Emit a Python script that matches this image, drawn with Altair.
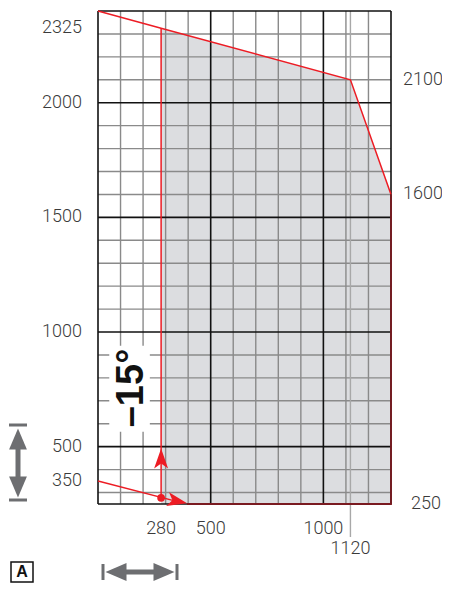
import altair as alt
import pandas as pd

# ---------------- data ----------------
x_domain = [0, 1300]
y_domain = [250, 2400]

grid_x_minor = [100, 200, 300, 400, 600, 700, 800, 900, 1100, 1200]
grid_x_major = [0, 500, 1000, 1300]
grid_y_minor = [300, 400, 600, 700, 800, 900, 1100, 1200, 1300, 1400,
                1600, 1700, 1800, 1900, 2100, 2200, 2300]
grid_y_major = [250, 500, 1000, 1500, 2000, 2400]

# limit curve (red outline)
curve_x = [0, 280, 1120, 1300]
curve_y = [2400, 2325, 2100, 1600]
edge_x = [1300, 1300, 395]
edge_y = [1600, 250, 250]
# shaded working range
area_x = [280, 1120, 1300]
area_y = [2325, 2100, 1600]
# vertical working line at 280
vert_x = [280, 280]
vert_y = [277, 2325]
# lower sloped line
low_x = [0, 370]
low_y = [350, 256]
dot_x, dot_y = [280], [277]
up_arrow_x, up_arrow_y = [280], [448]
right_arrow_x, right_arrow_y = [352], [262]

left_labels = [2325, 2000, 1500, 1000, 500, 350]
bottom_labels = [280, 500, 1000]
right_labels = [2100, 1600]
right_label_low = [250]
extra_x_label = [1120]

angle_text = "\u201315\u00b0"
angle_box_x = [50, 230]
angle_box_y = [565, 940]
angle_pos = (150, 756)

RED = "#ed1c24"
EDGE = "#7a1a20"
GRAY_TXT = "#3a3a3a"
ICON = "#6d6e71"
FONT = "Roboto"

xs = alt.Scale(domain=x_domain, nice=False, zero=False)
ys = alt.Scale(domain=y_domain, nice=False, zero=False)


def X(field, **kw):
    return alt.X(field, type="quantitative", scale=xs, axis=None, **kw)


def Y(field, **kw):
    return alt.Y(field, type="quantitative", scale=ys, axis=None, **kw)


def lbl(df, **kw):
    base = dict(fontSize=18, font=FONT, fontWeight=300, color=GRAY_TXT, baseline="middle")
    base.update(kw)
    return alt.Chart(df).mark_text(**base).encode(x=X("x"), y=Y("y"), text="t:N")


# ---------------- layers ----------------
area_df = pd.DataFrame({"x": area_x, "y": area_y, "b": [y_domain[0]] * len(area_x)})
area = alt.Chart(area_df).mark_area(color="#dcdde0", opacity=1).encode(
    x=X("x"), y=Y("y"), y2="b"
)

vmin_df = pd.DataFrame({"x": grid_x_minor, "y0": y_domain[0], "y1": y_domain[1]})
vmin = alt.Chart(vmin_df).mark_rule(color="#8a8a8a", strokeWidth=1.4).encode(
    x=X("x"), y=Y("y0"), y2="y1"
)
hmin_df = pd.DataFrame({"y": grid_y_minor, "x0": x_domain[0], "x1": x_domain[1]})
hmin = alt.Chart(hmin_df).mark_rule(color="#8a8a8a", strokeWidth=1.4).encode(
    y=Y("y"), x=X("x0"), x2="x1"
)
l1120_df = pd.DataFrame({"x": extra_x_label, "y0": y_domain[0], "y1": y_domain[1]})
l1120 = alt.Chart(l1120_df).mark_rule(color="#a8a8a8", strokeWidth=1.4).encode(
    x=X("x"), y=Y("y0"), y2="y1"
)
l1120_ext = alt.Chart(l1120_df).mark_rule(color="#a8a8a8", strokeWidth=1.4).encode(
    x=X("x"), y=alt.value(493), y2=alt.value(526)
)
vmaj_df = pd.DataFrame({"x": grid_x_major, "y0": y_domain[0], "y1": y_domain[1]})
vmaj = alt.Chart(vmaj_df).mark_rule(color="#111111", strokeWidth=1.6).encode(
    x=X("x"), y=Y("y0"), y2="y1"
)
hmaj_df = pd.DataFrame({"y": grid_y_major, "x0": x_domain[0], "x1": x_domain[1]})
hmaj = alt.Chart(hmaj_df).mark_rule(color="#111111", strokeWidth=1.6).encode(
    y=Y("y"), x=X("x0"), x2="x1"
)

box_df = pd.DataFrame({"x0": [angle_box_x[0]], "x1": [angle_box_x[1]],
                       "y0": [angle_box_y[0]], "y1": [angle_box_y[1]]})
box = alt.Chart(box_df).mark_rect(color="white").encode(
    x=X("x0"), x2="x1", y=Y("y0"), y2="y1"
)
angle_df = pd.DataFrame({"x": [angle_pos[0]], "y": [angle_pos[1]], "t": [angle_text]})
angle_lbl = alt.Chart(angle_df).mark_text(
    angle=270, fontSize=38, fontWeight="bold", font="Liberation Sans",
    color="#111111", align="center", baseline="middle"
).encode(x=X("x"), y=Y("y"), text="t:N")

curve_df = pd.DataFrame({"x": curve_x, "y": curve_y, "o": list(range(len(curve_x)))})
curve = alt.Chart(curve_df).mark_line(color=RED, strokeWidth=1.5).encode(
    x=X("x"), y=Y("y"), order="o:Q"
)
edge_df = pd.DataFrame({"x": edge_x, "y": edge_y, "o": list(range(len(edge_x)))})
edge = alt.Chart(edge_df).mark_line(color=EDGE, strokeWidth=1.8).encode(
    x=X("x"), y=Y("y"), order="o:Q"
)
vert_df = pd.DataFrame({"x": vert_x, "y": vert_y})
vert = alt.Chart(vert_df).mark_line(color=RED, strokeWidth=1.5).encode(
    x=X("x"), y=Y("y")
)
low_df = pd.DataFrame({"x": low_x, "y": low_y})
low = alt.Chart(low_df).mark_line(color=RED, strokeWidth=1.5).encode(
    x=X("x"), y=Y("y")
)
ARROW = "M0,-1L0.7,1L0,0.5L-0.7,1Z"
up_df = pd.DataFrame({"x": up_arrow_x, "y": up_arrow_y})
up_arrow = alt.Chart(up_df).mark_point(
    shape=ARROW, filled=True, size=400, color=RED, opacity=1
).encode(x=X("x"), y=Y("y"))
ra_df = pd.DataFrame({"x": right_arrow_x, "y": right_arrow_y})
right_arrow = alt.Chart(ra_df).mark_point(
    shape=ARROW, filled=True, size=400, color=RED, opacity=1, angle=102
).encode(x=X("x"), y=Y("y"))
dot_df = pd.DataFrame({"x": dot_x, "y": dot_y})
dot = alt.Chart(dot_df).mark_circle(size=60, color=RED, opacity=1).encode(
    x=X("x"), y=Y("y")
)

# labels
left_df = pd.DataFrame({"x": [x_domain[0]] * len(left_labels), "y": left_labels,
                        "t": [str(v) for v in left_labels]})
left_lbl = lbl(left_df, align="right", dx=-16)
bottom_df = pd.DataFrame({"x": bottom_labels, "y": [y_domain[0]] * len(bottom_labels),
                          "t": [str(v) for v in bottom_labels]})
bottom_lbl = lbl(bottom_df, align="center", dy=25)
lbl1120_df = pd.DataFrame({"x": extra_x_label, "y": [y_domain[0]],
                           "t": [str(v) for v in extra_x_label]})
lbl1120 = lbl(lbl1120_df, align="center", dy=45)
right_df = pd.DataFrame({"x": [x_domain[1]] * len(right_labels), "y": right_labels,
                         "t": [str(v) for v in right_labels]})
right_lbl = lbl(right_df, align="left", dx=12)
right_low_df = pd.DataFrame({"x": [x_domain[1]], "y": right_label_low,
                             "t": [str(v) for v in right_label_low]})
right_low = lbl(right_low_df, align="left", dx=20)

# decorative icons (pixel positions relative to plot area)
one = pd.DataFrame({"k": [0]})
TRI = "M0,-1L0.85,1L-0.85,1Z"
v_bar_top = alt.Chart(one).mark_rule(color=ICON, strokeWidth=3).encode(
    x=alt.value(-89), x2=alt.value(-71), y=alt.value(414))
v_bar_bot = alt.Chart(one).mark_rule(color=ICON, strokeWidth=3).encode(
    x=alt.value(-89), x2=alt.value(-71), y=alt.value(489))
v_shaft = alt.Chart(one).mark_rule(color=ICON, strokeWidth=5).encode(
    x=alt.value(-80), y=alt.value(430), y2=alt.value(475))
v_head_up = alt.Chart(one).mark_point(shape=TRI, filled=True, size=440, color=ICON,
                                      opacity=1).encode(x=alt.value(-80), y=alt.value(428))
v_head_dn = alt.Chart(one).mark_point(shape=TRI, filled=True, size=440, color=ICON,
                                      opacity=1, angle=180).encode(x=alt.value(-80), y=alt.value(476))
HY = 561
h_bar_l = alt.Chart(one).mark_rule(color=ICON, strokeWidth=3).encode(
    x=alt.value(5), y=alt.value(HY - 8), y2=alt.value(HY + 8))
h_bar_r = alt.Chart(one).mark_rule(color=ICON, strokeWidth=3).encode(
    x=alt.value(79), y=alt.value(HY - 8), y2=alt.value(HY + 8))
h_shaft = alt.Chart(one).mark_rule(color=ICON, strokeWidth=5).encode(
    x=alt.value(20), x2=alt.value(64), y=alt.value(HY))
h_head_l = alt.Chart(one).mark_point(shape=TRI, filled=True, size=440, color=ICON,
                                     opacity=1, angle=270).encode(x=alt.value(18), y=alt.value(HY))
h_head_r = alt.Chart(one).mark_point(shape=TRI, filled=True, size=440, color=ICON,
                                     opacity=1, angle=90).encode(x=alt.value(66), y=alt.value(HY))
a_box = alt.Chart(one).mark_rect(fill="white", stroke="#111111", strokeWidth=1.5).encode(
    x=alt.value(-87), x2=alt.value(-65), y=alt.value(HY - 10), y2=alt.value(HY + 10))
a_txt = alt.Chart(pd.DataFrame({"t": ["A"]})).mark_text(
    fontSize=16, fontWeight="bold", font="Liberation Sans", color="#111111",
    baseline="middle", align="center"
).encode(x=alt.value(-76), y=alt.value(HY), text="t:N")

chart = alt.layer(
    area, vmin, hmin, l1120, l1120_ext, vmaj, hmaj, box, angle_lbl,
    curve, edge, vert, low, up_arrow, right_arrow, dot,
    left_lbl, bottom_lbl, lbl1120, right_lbl, right_low,
    v_bar_top, v_bar_bot, v_shaft, v_head_up, v_head_dn,
    h_bar_l, h_bar_r, h_shaft, h_head_l, h_head_r, a_box, a_txt
).properties(
    width=293, height=493,
    autosize=alt.AutoSizeParams(type="none"),
    padding={"left": 90, "top": 3, "right": 51, "bottom": 79},
).configure_view(stroke=None)

chart.save("out.html", embed_options={"renderer": "svg", "actions": False})
